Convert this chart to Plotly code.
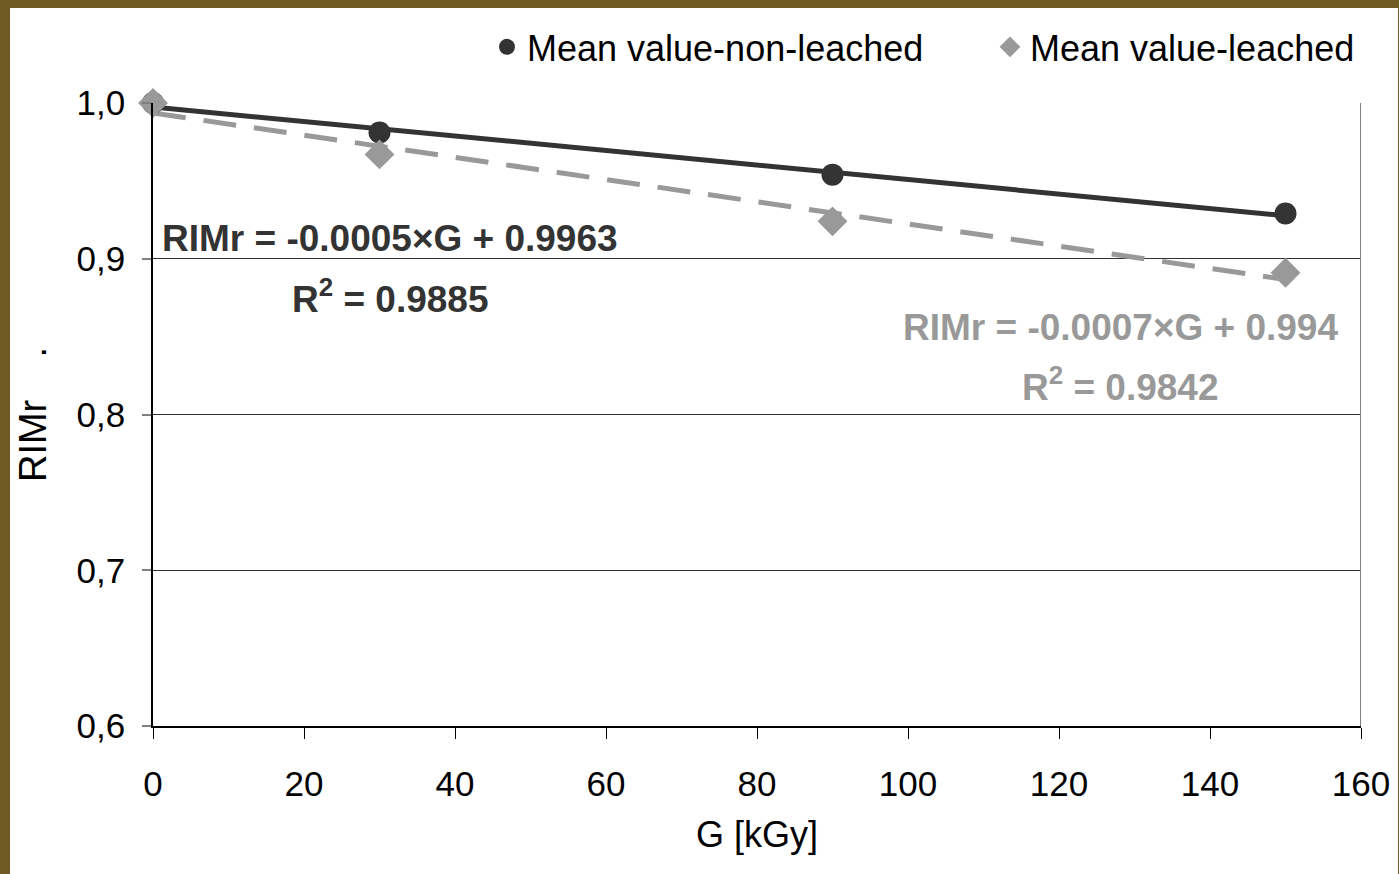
import numpy as np
import plotly.graph_objects as go

# ---- data ----
dose = [0, 30, 90, 150]
rim_non_leached = [1.000, 0.981, 0.954, 0.929]
rim_leached = [1.000, 0.967, 0.924, 0.891]
name_non_leached = "Mean value-non-leached"
name_leached = "Mean value-leached"
eq_non_leached = "RIMr = -0.0005×G + 0.9963"
r2_non_leached = "0.9885"
eq_leached = "RIMr = -0.0007×G + 0.994"
r2_leached = "0.9842"
x_ticks = [0, 20, 40, 60, 80, 100, 120, 140, 160]
y_ticks = [0.6, 0.7, 0.8, 0.9, 1.0]

FONT = "Liberation Sans, Arial, sans-serif"
DARK = "#333333"
GREY = "#999999"

def fit(x, y):
    k, b = np.polyfit(x, y, 1)
    xs = np.array([min(x), max(x)], dtype=float)
    return xs, k * xs + b

fig = go.Figure()

xs1, ys1 = fit(dose, rim_non_leached)
xs2, ys2 = fit(dose, rim_leached)

fig.add_trace(go.Scatter(x=xs2, y=ys2, mode="lines", showlegend=False,
                         line=dict(color=GREY, width=5, dash="33px,18px"), hoverinfo="skip"))
fig.add_trace(go.Scatter(x=xs1, y=ys1, mode="lines", showlegend=False,
                         line=dict(color=DARK, width=5), hoverinfo="skip"))
fig.add_trace(go.Scatter(x=dose, y=rim_non_leached, mode="markers", name=name_non_leached,
                         marker=dict(symbol="circle", size=22, color=DARK), cliponaxis=False))
fig.add_trace(go.Scatter(x=dose, y=rim_leached, mode="markers", name=name_leached,
                         marker=dict(symbol="diamond", size=23, color=GREY), cliponaxis=False))

# white panel over textured background
fig.add_shape(type="rect", xref="paper", yref="paper",
              x0=(10 - 153) / 1208, x1=(1398 - 153) / 1208,
              y0=(726 - 874) / 623 - 0.01, y1=(726 - 8) / 623,
              fillcolor="white", line=dict(width=0), layer="below")
# right border of plot area
fig.add_shape(type="line", xref="x", yref="paper", x0=160, x1=160, y0=0, y1=1,
              line=dict(color="#808080", width=2), layer="above")

fig.add_annotation(x=31.4, y=0.9133, text="<b>" + eq_non_leached + "</b>", showarrow=False,
                   font=dict(family=FONT, size=37, color=DARK))
fig.add_annotation(x=31.4, y=0.876, text="<b>R<sup>2</sup> = " + r2_non_leached + "</b>", showarrow=False,
                   font=dict(family=FONT, size=37, color=DARK))
fig.add_annotation(x=128.1, y=0.856, text="<b>" + eq_leached + "</b>", showarrow=False,
                   font=dict(family=FONT, size=37, color=GREY))
fig.add_annotation(x=128.1, y=0.819, text="<b>R<sup>2</sup> = " + r2_leached + "</b>", showarrow=False,
                   font=dict(family=FONT, size=37, color=GREY))

fig.update_layout(
    width=1399, height=874,
    margin=dict(l=153, r=38, t=103, b=148, autoexpand=False),
    paper_bgcolor="#6e5a22",
    plot_bgcolor="white",
    separators=", ",
    font=dict(family=FONT, size=35, color="black"),
    showlegend=True,
    legend=dict(orientation="h", x=(487 - 153) / 1208, xanchor="left", y=1.09, yanchor="middle",
                bgcolor="rgba(0,0,0,0)", entrywidth=458, entrywidthmode="pixels",
                font=dict(family=FONT, size=36, color="black")),
    xaxis=dict(range=[0, 160], tickvals=x_ticks, showgrid=False, zeroline=False,
               showline=True, linecolor="black", linewidth=2,
               ticks="outside", ticklen=11, tickcolor="black", tickwidth=1,
               ticklabelstandoff=15, automargin=False,
               title=dict(text="G [kGy]", font=dict(family=FONT, size=36), standoff=20)),
    yaxis=dict(range=[0.6, 1.0], tickvals=y_ticks, tickformat=".1f",
               showgrid=True, gridcolor="#333333", gridwidth=1, zeroline=False,
               showline=True, linecolor="black", linewidth=1.5,
               ticks="outside", ticklen=9, tickcolor="#808080", tickwidth=2,
               ticklabelstandoff=10, automargin=False,
               title=dict(text="RIMr\u00a0\u00a0\u00a0\u00a0.", font=dict(family=FONT, size=38), standoff=18)),
)

fig.write_html("out.html")
